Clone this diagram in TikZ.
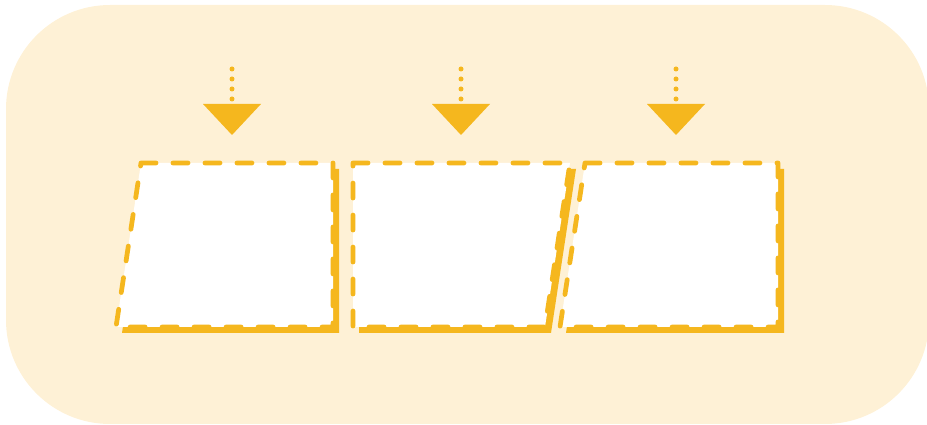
\documentclass[tikz,border=0pt]{standalone}
\usepackage{tikz}

\definecolor{slotyellow}{HTML}{F5B71E}
\definecolor{panelcream}{HTML}{FEF1D6}

\begin{document}
\begin{tikzpicture}[
  x=0.02cm, y=-0.02cm,
  panel/.style={fill=panelcream, rounded corners=2.08cm},
  slot/.style={fill=white, draw=slotyellow, line width=0.095cm,
    dash pattern=on 0.3cm off 0.34cm, line cap=round, line join=round},
  slotshadow/.style={fill=slotyellow, shift={(6,6)}},
  dotline/.style={draw=slotyellow, line width=0.1cm, line cap=round,
    dash pattern=on 0pt off 0.2cm},
  droptip/.style={fill=slotyellow}
]

  \useasboundingbox (0,0) rectangle (927,425);

  % Background panel
  \fill[panel] (6,5) rectangle (929,424);

  % Drop markers
  \coordinate (s1) at (232,69);
  \coordinate (e1) at (232,99);
  \coordinate (t1) at (232,104);
  \draw[dotline] (s1) -- (e1);
  \fill[droptip] (t1) ++(-29,0) -- ++(58,0) -- ++(-29,31) -- cycle;

  \coordinate (s2) at (461,69);
  \coordinate (e2) at (461,99);
  \coordinate (t2) at (461,104);
  \draw[dotline] (s2) -- (e2);
  \fill[droptip] (t2) ++(-29,0) -- ++(58,0) -- ++(-29,31) -- cycle;

  \coordinate (s3) at (676,69);
  \coordinate (e3) at (676,99);
  \coordinate (t3) at (676,104);
  \draw[dotline] (s3) -- (e3);
  \fill[droptip] (t3) ++(-29,0) -- ++(58,0) -- ++(-29,31) -- cycle;

  % Slots
  \fill[slotshadow] (141,163) -- (333,163) -- (333,327) -- (116,327) -- cycle;
  \path[slot] (141,163) -- (333,163) -- (333,327) -- (116,327) -- cycle;

  \fill[slotshadow] (353,163) -- (570,163) -- (545,327) -- (353,327) -- cycle;
  \path[slot] (353,163) -- (570,163) -- (545,327) -- (353,327) -- cycle;

  \fill[slotshadow] (585,163) -- (778,163) -- (778,327) -- (560,327) -- cycle;
  \path[slot] (585,163) -- (778,163) -- (778,327) -- (560,327) -- cycle;

\end{tikzpicture}
\end{document}
